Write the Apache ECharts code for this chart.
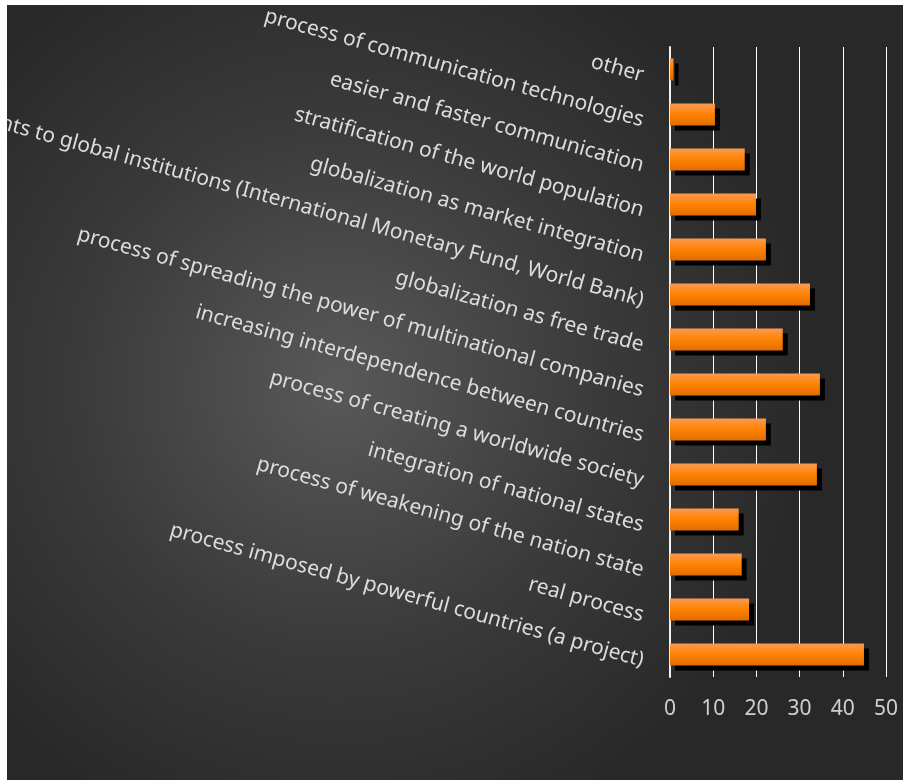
<!DOCTYPE html>
<html>
<head>
<meta charset="utf-8">
<script src="https://cdn.jsdelivr.net/npm/echarts@6/dist/echarts.min.js"></script>
<style>
html,body{margin:0;padding:0;background:#ffffff;width:903px;height:780px;overflow:hidden;}
#chart{position:absolute;left:7px;top:5px;width:896px;height:775px;}
</style>
</head>
<body>
<div id="chart"></div>
<script>
// Categories listed top to bottom
var categories = [
  "other",
  "process of communication technologies",
  "easier and faster communication",
  "stratification of the world population",
  "globalization as market integration",
  "adjustments to global institutions (International Monetary Fund, World Bank)",
  "globalization as free trade",
  "process of spreading the power of multinational companies",
  "increasing interdependence between countries",
  "process of creating a worldwide society",
  "integration of national states",
  "process of weakening of the nation state",
  "real process",
  "process imposed by powerful countries (a project)"
];
var values = [0.8, 10.4, 17.3, 19.9, 22.2, 32.4, 26.1, 34.7, 22.2, 34.0, 15.9, 16.6, 18.3, 44.9];
var xTicks = [0, 10, 20, 30, 40, 50];

var chart = echarts.init(document.getElementById('chart'), null, {renderer: 'canvas'});
var option = {
  animation: false,
  backgroundColor: {
    type: 'radial', x: 0.37, y: 0.49, r: 0.62,
    colorStops: [
      {offset: 0, color: '#595959'},
      {offset: 0.55, color: '#3a3a3a'},
      {offset: 1, color: '#282828'}
    ]
  },
  grid: {left: 663, right: 17, top: 42, bottom: 103, containLabel: false, outerBoundsMode: 'none'},
  xAxis: {
    type: 'value', min: xTicks[0], max: xTicks[xTicks.length - 1], interval: 10,
    axisLine: {show: false},
    axisTick: {show: false},
    splitLine: {show: true, lineStyle: {color: '#ffffff', width: 1}},
    axisLabel: {color: '#d0d0d0', fontSize: 21, fontFamily: 'Noto Sans', margin: 22}
  },
  yAxis: {
    type: 'category', data: categories, inverse: true,
    axisLine: {show: true, lineStyle: {color: '#f2f2f2', width: 2}},
    axisTick: {show: false},
    axisLabel: {
      rotate: -15.5, margin: 25, align: 'right', verticalAlign: 'middle',
      interval: 0,
      formatter: function (v) { return '{a|' + v + '}'; },
      rich: {
        a: {color: '#dcdcdc', fontSize: 21, fontFamily: 'Noto Sans', padding: [13, 0, 0, 0]}
      }
    }
  },
  series: [{
    type: 'bar',
    data: values,
    barWidth: 22,
    itemStyle: {
      color: {
        type: 'linear', x: 0, y: 0, x2: 0, y2: 1,
        colorStops: [
          {offset: 0, color: '#fb9a50'},
          {offset: 0.5, color: '#ff8200'},
          {offset: 1, color: '#e26c00'}
        ]
      },
      shadowColor: '#000000', shadowBlur: 0, shadowOffsetX: 5, shadowOffsetY: 5
    }
  }]
};
chart.setOption(option);
</script>
</body>
</html>
